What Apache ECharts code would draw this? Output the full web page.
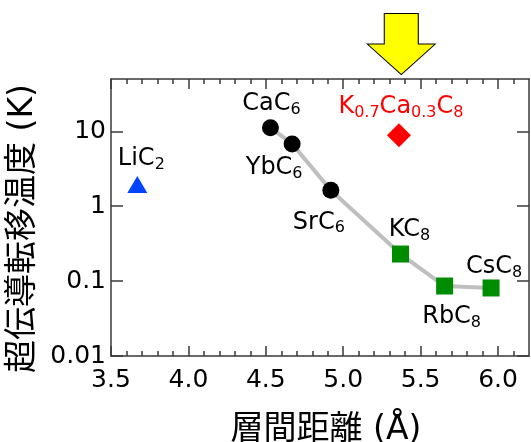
<!DOCTYPE html>
<html><head><meta charset="utf-8">
<script src="https://cdn.jsdelivr.net/npm/echarts@6/dist/echarts.min.js"></script>
<style>html,body{margin:0;padding:0;background:#fff}#c{width:531px;height:442px}</style>
</head><body><div id="c"></div>
<script>
// ---- data ----
const xMajorTicks = [3.5, 4.0, 4.5, 5.0, 5.5, 6.0];
const xMinorTicks = [3.6, 3.7, 3.8, 3.9, 4.1, 4.2, 4.3, 4.4, 4.6, 4.7, 4.8, 4.9,
                     5.1, 5.2, 5.3, 5.4, 5.6, 5.7, 5.8, 5.9, 6.1];
const yTicks = [0.01, 0.1, 1, 10];

const circleNames = ['CaC_6', 'YbC_6', 'SrC_6'];
const circleX = [4.53, 4.67, 4.92];
const circleY = [11.2, 6.8, 1.63];

const squareNames = ['KC_8', 'RbC_8', 'CsC_8'];
const squareX = [5.37, 5.655, 5.955];
const squareY = [0.23, 0.086, 0.081];

const triangleNames = ['LiC_2'];
const triangleX = [3.67];
const triangleY = [1.95];

const diamondNames = ['K_{0.7}Ca_{0.3}C_8'];
const diamondX = [5.36];
const diamondY = [8.9];

const trendX = circleX.concat(squareX);
const trendY = circleY.concat(squareY);

const arrowX = 5.375;   // highlighted compound marker (yellow arrow)

// ---- styling ----
const labelOffsets = {
  'CaC_6': [1, -24], 'YbC_6': [-18, 24], 'SrC_6': [-12, 32],
  'KC_8': [9, -24], 'RbC_8': [7, 31], 'CsC_8': [3, -21],
  'LiC_2': [4, -26], 'K_{0.7}Ca_{0.3}C_8': [2, -28.5]
};
const FONT = 'DejaVu Sans, Noto Sans CJK JP';

function richText(s) {
  let out = '{m|' + s.replace(/_\{([^}]*)\}|_(.)/g, (m, a, b) => '}{s|' + (a || b) + '}{m|') + '}';
  return out.replace(/\{m\|\}/g, '');
}
function rich(color) {
  return {
    m: { fontFamily: FONT, fontSize: 24, lineHeight: 28, color: color },
    s: { fontFamily: FONT, fontSize: 16, lineHeight: 16, verticalAlign: 'bottom', color: color }
  };
}
function points(names, xs, ys) {
  return names.map((n, i) => ({
    name: n, value: [xs[i], ys[i]],
    label: { offset: labelOffsets[n] }
  }));
}
function scatter(names, xs, ys, symbol, size, color) {
  return {
    type: 'scatter', xAxisIndex: 0, yAxisIndex: 0,
    symbol: symbol, symbolSize: size, z: 3,
    itemStyle: { color: color, opacity: 1 },
    label: {
      show: true, position: 'inside',
      formatter: p => richText(p.name),
      rich: rich(color === '#ff0000' ? '#ff0000' : '#000')
    },
    data: points(names, xs, ys)
  };
}

const axisColor = '#3a3a3a';
const xBase = { type: 'value', min: 3.5, max: 6.2, splitLine: { show: false } };
const yBase = { type: 'log', logBase: 10, min: 0.01, max: 50, splitLine: { show: false } };

const chart = echarts.init(document.getElementById('c'), null, { renderer: 'canvas' });
chart.setOption({
  animation: false,
  backgroundColor: '#fff',
  grid: { left: 111, right: 2, top: 79, bottom: 86, containLabel: false, outerBoundsMode: 'none' },
  xAxis: [
    Object.assign({}, xBase, {
      position: 'bottom',
      name: '層間距離 (Å)', nameLocation: 'middle', nameGap: 58,
      nameTextStyle: { fontFamily: FONT, fontSize: 33, color: '#000', padding: [0, 0, 0, 12] },
      axisLine: { show: true, lineStyle: { color: axisColor, width: 1.5 } },
      axisTick: { show: true, inside: true, length: 10, customValues: xMajorTicks, lineStyle: { color: axisColor, width: 1.5 } },
      axisLabel: { show: true, customValues: xMajorTicks, margin: 12, fontFamily: FONT, fontSize: 25, color: '#000',
                   formatter: v => v.toFixed(1) }
    }),
    Object.assign({}, xBase, {
      position: 'bottom',
      axisLine: { show: false },
      axisTick: { show: true, inside: true, length: 5, customValues: xMinorTicks, lineStyle: { color: axisColor, width: 1.5 } },
      axisLabel: { show: false }
    }),
    Object.assign({}, xBase, {
      position: 'top',
      axisLine: { show: true, lineStyle: { color: axisColor, width: 1.5 } },
      axisTick: { show: true, inside: true, length: 10, customValues: xMajorTicks, lineStyle: { color: axisColor, width: 1.5 } },
      axisLabel: { show: false }
    }),
    Object.assign({}, xBase, {
      position: 'top',
      axisLine: { show: false },
      axisTick: { show: true, inside: true, length: 5, customValues: xMinorTicks, lineStyle: { color: axisColor, width: 1.5 } },
      axisLabel: { show: false }
    })
  ],
  yAxis: [
    Object.assign({}, yBase, {
      position: 'left',
      name: '超伝導転移温度 (K)', nameLocation: 'middle', nameGap: 68,
      nameTextStyle: { fontFamily: FONT, fontSize: 33, color: '#000', padding: [0, 22, 0, 0] },
      axisLine: { show: true, lineStyle: { color: axisColor, width: 1.5 } },
      axisTick: { show: true, inside: true, length: 12, customValues: yTicks, lineStyle: { color: axisColor, width: 1.5 } },
      axisLabel: { show: true, customValues: yTicks, margin: 5, fontFamily: FONT, fontSize: 25, color: '#000',
                   formatter: v => String(+v.toPrecision(3)) }
    }),
    Object.assign({}, yBase, {
      position: 'right',
      axisLine: { show: true, lineStyle: { color: axisColor, width: 1.5 } },
      axisTick: { show: true, inside: true, length: 12, customValues: yTicks, lineStyle: { color: axisColor, width: 1.5 } },
      axisLabel: { show: false }
    })
  ],
  series: [
    {
      type: 'line', xAxisIndex: 0, yAxisIndex: 0, symbol: 'none', z: 1, silent: true,
      lineStyle: { color: '#bfbfbf', width: 4 },
      data: trendX.map((x, i) => [x, trendY[i]])
    },
    scatter(circleNames, circleX, circleY, 'circle', 17, '#000000'),
    scatter(squareNames, squareX, squareY, 'rect', 17, '#008c00'),
    scatter(triangleNames, triangleX, triangleY, 'triangle', [20, 17], '#0044ff'),
    Object.assign(scatter(diamondNames, diamondX, diamondY, 'diamond', 24, '#ff0000'), {
      markPoint: {
        silent: true,
        symbol: 'path://M17,0 L51,0 L51,30 L68,30 L34,60 L0,30 L17,30 Z',
        symbolSize: [68, 61],
        symbolOffset: [0, -35],
        itemStyle: { color: '#ffff00', borderColor: '#000', borderWidth: 1 },
        label: { show: false },
        data: [{ coord: [arrowX, 50] }]
      }
    })
  ]
});
</script></body></html>
